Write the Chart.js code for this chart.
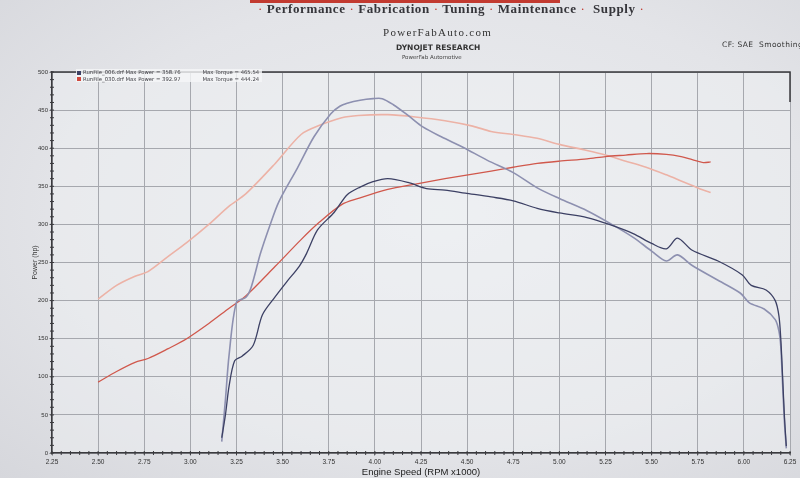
<!DOCTYPE html>
<html>
<head>
<meta charset="utf-8">
<script src="https://cdn.jsdelivr.net/npm/chart.js@4"></script>
<style>
  body { margin: 0; width: 800px; height: 478px; overflow: hidden;
         background: radial-gradient(ellipse at 55% 45%, #eceef1 0%, #e3e4e8 60%, #d6d7dc 100%);
         font-family: "DejaVu Sans", sans-serif; color: #2a2a2e; }
  #wrap { position: relative; width: 800px; height: 478px; overflow: hidden; }
  #chart { position: absolute; left: 0; top: 0; }
  .txt { position: absolute; white-space: nowrap; }
  #redbar { position: absolute; left: 250px; top: 0; width: 310px; height: 3px; background: #c23a30; }
  #menu { left: 258px; top: 1px; font-family: "Liberation Serif", serif; font-weight: bold; font-size: 13px; color: #35353a; letter-spacing: 0.6px; }
  #menu b { color: #c23a30; font-weight: normal; }
  #site { left: 383px; top: 26px; font-family: "Liberation Serif", serif; font-size: 11px; letter-spacing: 1.3px; color: #333; }
  #dyno { left: 396px; top: 43px; font-size: 7.5px; font-weight: bold; color: #333; }
  #shop { left: 402px; top: 54px; font-size: 5.5px; color: #444; }
  #cf { left: 722px; top: 40px; font-size: 7.5px; letter-spacing: 0.4px; color: #333; }
  #legend { left: 76px; top: 69px; font-size: 5.3px; line-height: 6.5px; color: #3a3a40; background: rgba(245,246,248,0.8); padding: 0 3px 0 1px; }
  #legend span.sq { display: inline-block; width: 4px; height: 4px; margin-right: 2px; vertical-align: middle; }
  #legend span.mt { display: inline-block; margin-left: 22px; }
</style>
</head>
<body>
<div id="wrap">
  <canvas id="chart" width="800" height="478"></canvas>
  <div id="redbar"></div>
  <div class="txt" id="menu"><b>·</b> Performance <b>·</b> Fabrication <b>·</b> Tuning <b>·</b> Maintenance <b>·</b>&nbsp; Supply <b>·</b></div>
  <div class="txt" id="site">PowerFabAuto.com</div>
  <div class="txt" id="dyno">DYNOJET RESEARCH</div>
  <div class="txt" id="shop">PowerFab Automotive</div>
  <div class="txt" id="cf">CF: SAE&nbsp; Smoothing</div>
  <div class="txt" id="legend">
    <div><span class="sq" style="background:#3c4064"></span>RunFile_006.drf Max Power = 358.76<span class="mt">Max Torque = 465.54</span></div>
    <div><span class="sq" style="background:#d0483e"></span>RunFile_030.drf Max Power = 392.97<span class="mt">Max Torque = 444.24</span></div>
  </div>
</div>
<script>
// x ticks / axis range (RPM x1000)
const xMin = 2.25, xMax = 6.25, xStep = 0.25;
const yMin = 0, yMax = 500, yStep = 50;

// RunFile_006 - power (dark) and torque (light)
const rpm006Power = [3.17, 3.19, 3.21, 3.24, 3.28, 3.34, 3.39, 3.45, 3.52, 3.59, 3.63, 3.69, 3.78, 3.85, 3.92, 3.99, 4.07, 4.18, 4.28, 4.38, 4.49, 4.63, 4.75, 4.88, 5.0, 5.15, 5.27, 5.4, 5.5, 5.58, 5.64, 5.72, 5.86, 5.99, 6.04, 6.12, 6.17, 6.19, 6.2, 6.21, 6.22, 6.23];
const hp006 = [20, 50, 88, 121, 127, 141, 181, 202, 224, 245, 262, 293, 316, 339, 349, 356, 360, 355, 347, 345, 341, 336, 331, 321, 315, 309, 300, 288, 275, 268, 282, 266, 252, 234, 220, 214, 200, 180, 150, 100, 47, 9];
const rpm006Torque = [3.17, 3.19, 3.21, 3.25, 3.3, 3.33, 3.38, 3.43, 3.48, 3.58, 3.67, 3.76, 3.81, 3.85, 3.92, 3.99, 4.04, 4.1, 4.18, 4.26, 4.36, 4.48, 4.61, 4.75, 4.88, 5.0, 5.15, 5.27, 5.4, 5.5, 5.58, 5.64, 5.72, 5.85, 5.98, 6.03, 6.11, 6.17, 6.19, 6.2, 6.21, 6.22, 6.23];
const tq006 = [15, 70, 129, 198, 204, 218, 262, 298, 330, 374, 415, 445, 455, 459, 463, 465, 465, 457, 443, 428, 415, 401, 384, 368, 348, 334, 318, 302, 283, 265, 252, 260, 246, 228, 210, 197, 189, 175, 160, 140, 90, 40, 6];

// RunFile_030 - power (red) and torque (salmon)
const rpm030 = [2.5, 2.6, 2.7, 2.77, 2.88, 2.98, 3.1, 3.21, 3.3, 3.46, 3.6, 3.7, 3.82, 3.91, 4.07, 4.22, 4.38, 4.53, 4.63, 4.75, 4.88, 5.0, 5.15, 5.25, 5.36, 5.47, 5.58, 5.66, 5.72, 5.78, 5.82];
const hp030 = [93, 107, 119, 124, 137, 150, 170, 190, 206, 245, 280, 303, 326, 334, 346, 353, 360, 366, 370, 375, 380, 383, 386, 389, 391, 393, 392, 389, 385, 381, 382];
const tq030 = [202, 220, 232, 238, 258, 276, 300, 324, 340, 380, 418, 430, 440, 443, 444, 441, 436, 429, 422, 418, 413, 405, 397, 391, 383, 375, 365, 357, 351, 345, 342];

const colors = { hp006: '#3c4064', tq006: '#8d90b0', hp030: '#d0584c', tq030: '#ecb2a6' };

function pairs(xs, ys) { return xs.map((x, i) => ({ x: x, y: ys[i] })); }

const dynoFrame = {
  id: 'dynoFrame',
  beforeDraw(chart) {
    const { ctx, chartArea: a } = chart;
    ctx.save();
    ctx.fillStyle = 'rgba(240,241,244,0.45)';
    ctx.fillRect(a.left, a.top, a.right - a.left, a.bottom - a.top);
    ctx.restore();
  },
  afterDraw(chart) {
    const { ctx, chartArea: a, scales: { x, y } } = chart;
    ctx.save();
    ctx.strokeStyle = '#3a3a3e';
    ctx.lineWidth = 1.5;
    ctx.beginPath();
    ctx.moveTo(a.left, a.top); ctx.lineTo(a.right, a.top); ctx.lineTo(a.right, a.top + 30);
    ctx.stroke();
    // minor ticks along the axes
    ctx.lineWidth = 1;
    ctx.beginPath();
    for (let v = yMin; v <= yMax; v += 10) {
      const py = y.getPixelForValue(v);
      ctx.moveTo(a.left - 2, py); ctx.lineTo(a.left + 2, py);
    }
    for (let v = xMin; v <= xMax + 0.001; v += 0.05) {
      const px = x.getPixelForValue(v);
      ctx.moveTo(px, a.bottom - 2); ctx.lineTo(px, a.bottom + 2);
    }
    ctx.stroke();
    ctx.restore();
  }
};

new Chart(document.getElementById('chart'), {
  type: 'line',
  data: {
    datasets: [
      { label: 'RunFile_006 Power', data: pairs(rpm006Power, hp006), borderColor: colors.hp006, borderWidth: 1.3 },
      { label: 'RunFile_006 Torque', data: pairs(rpm006Torque, tq006), borderColor: colors.tq006, borderWidth: 1.6 },
      { label: 'RunFile_030 Power', data: pairs(rpm030, hp030), borderColor: colors.hp030, borderWidth: 1.3 },
      { label: 'RunFile_030 Torque', data: pairs(rpm030, tq030), borderColor: colors.tq030, borderWidth: 1.6 }
    ]
  },
  options: {
    responsive: false,
    animation: false,
    devicePixelRatio: 1,
    layout: { padding: { top: 72, right: 10, left: 31, bottom: 0 } },
    elements: { point: { radius: 0 }, line: { tension: 0.3, fill: false } },
    plugins: { legend: { display: false }, tooltip: { enabled: false } },
    scales: {
      x: {
        type: 'linear', min: xMin, max: xMax,
        afterFit: s => { s.height = 25; },
        ticks: { stepSize: xStep, callback: v => v.toFixed(2), color: '#333', font: { size: 6.5 }, padding: 2, maxRotation: 0 },
        grid: { color: '#a6a8ae', lineWidth: 1, tickLength: 3 },
        border: { color: '#3a3a3e', width: 1.5 },
        title: { display: true, text: 'Engine Speed (RPM x1000)', color: '#222', font: { size: 9.5 }, padding: 0 }
      },
      y: {
        min: yMin, max: yMax,
        afterFit: s => { s.width = 21; },
        ticks: { stepSize: yStep, color: '#333', font: { size: 6 }, padding: 1 },
        grid: { color: '#a6a8ae', lineWidth: 1, tickLength: 3 },
        border: { color: '#3a3a3e', width: 1.5 },
        title: { display: true, text: 'Power (hp)', color: '#333', font: { size: 7 }, padding: 0 }
      }
    }
  },
  plugins: [dynoFrame]
});
</script>
</body>
</html>
